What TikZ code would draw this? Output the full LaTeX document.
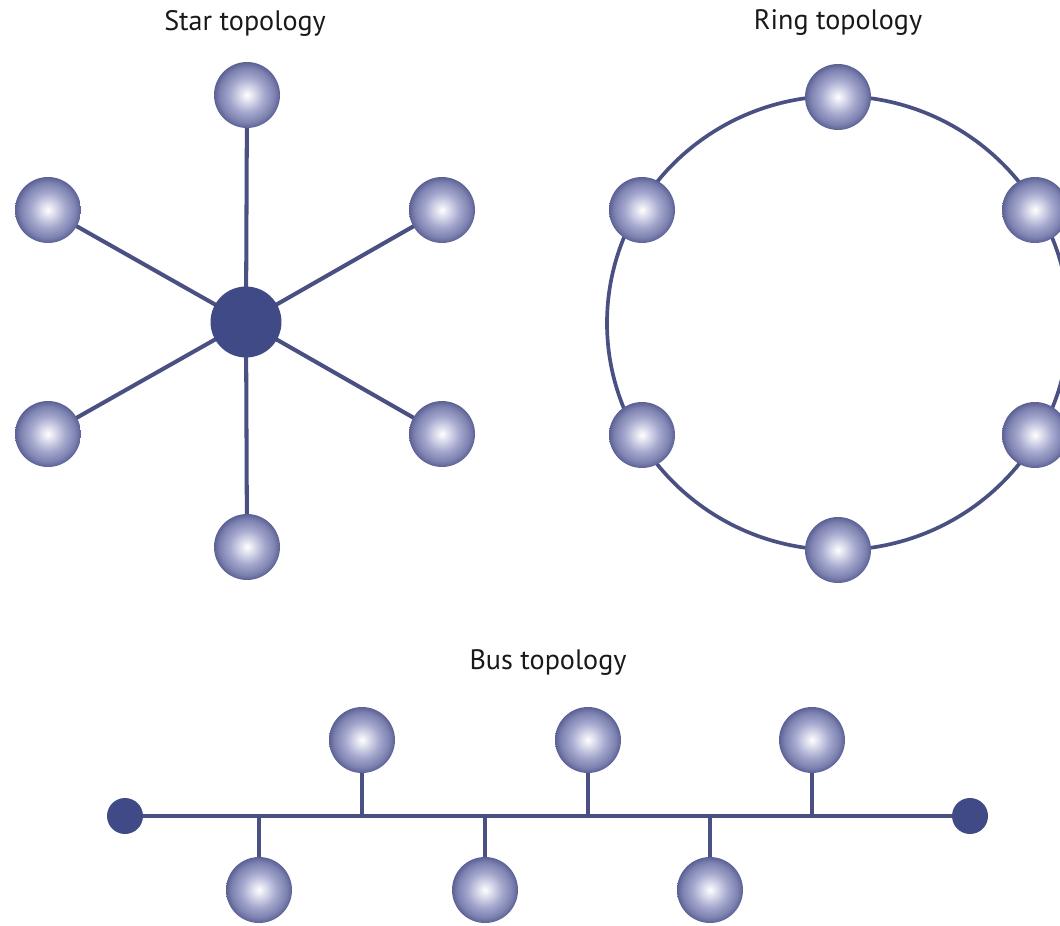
\documentclass[tikz,border=0pt]{standalone}
\usepackage{fontspec}
\setmainfont{PT Sans}
\definecolor{linec}{HTML}{4A5082}
\definecolor{hubc}{HTML}{404A86}
\definecolor{ballA}{HTML}{E4E5F1}
\definecolor{ballB}{HTML}{A6A9CE}
\definecolor{ballC}{HTML}{7C81B0}
\definecolor{ballD}{HTML}{5C6195}
\pgfdeclareradialshading{sphere}{\pgfpointorigin}{%
  color(0bp)=(white); color(4bp)=(ballA); color(13bp)=(ballB);
  color(21bp)=(ballC); color(25bp)=(ballD); color(50bp)=(ballD)}
\tikzset{
  ball/.style={circle, minimum size=1.32cm, inner sep=0pt, shading=sphere},
  hub/.style={circle, minimum size=1.42cm, inner sep=0pt, fill=hubc},
  endcap/.style={circle, minimum size=0.72cm, inner sep=0pt, fill=hubc},
  link/.style={draw=linec, line width=2.3pt},
  title/.style={font=\fontsize{16}{18}\selectfont, text=black!90},
}
\begin{document}
\begin{tikzpicture}[x=0.02cm, y=-0.02cm]
\useasboundingbox (0,0) rectangle (1060,925);
\clip (0,0) rectangle (1060,925);

% ---- star ----
\node[title] (startitle) at (245,23) {Star topology};
\coordinate (hc) at (246,322);
\coordinate (s1) at (247,95);
\coordinate (s2) at (48,210);
\coordinate (s3) at (442,210);
\coordinate (s4) at (48,434);
\coordinate (s5) at (442,434);
\coordinate (s6) at (247,547);
\foreach \n in {s1,s2,s3,s4,s5,s6}{
  \draw[link] (hc) -- (\n);
  \node[ball] (\n ball) at (\n) {};
}
\node[hub] (hub) at (hc) {};

% ---- ring ----
\node[title] (ringtitle) at (838,23) {Ring topology};
\draw[link, line width=2.1pt] (838,323) ellipse [x radius=231, y radius=227];
\node[ball] (r1) at (838,97) {};
\node[ball] (r2) at (642,210) {};
\node[ball] (r3) at (1035,210) {};
\node[ball] (r4) at (642,435) {};
\node[ball] (r5) at (1035,435) {};
\node[ball] (r6) at (838,550) {};

% ---- bus ----
\node[title] (bustitle) at (548,663) {Bus topology};
\node[endcap] (e1) at (125,816) {};
\node[endcap] (e2) at (970,816) {};
\draw[link, line width=2.6pt] (e1) -- (e2);
\foreach \n/\x/\y in {b1/362/740, b2/588/740, b3/812/740, b4/259/890, b5/485/890, b6/710/890}{
  \coordinate (\n t) at (\x,816);
  \draw[link] (\n t) -- (\x,\y);
  \node[ball] (\n) at (\x,\y) {};
}
\end{tikzpicture}
\end{document}
